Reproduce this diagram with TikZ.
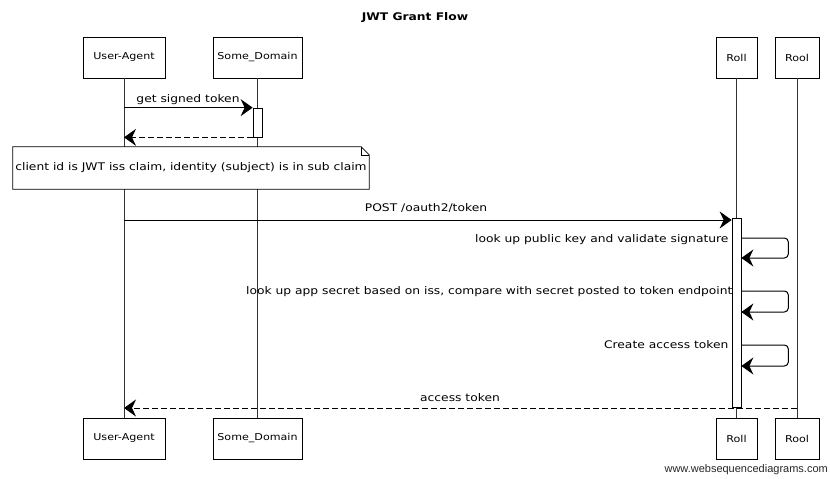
\documentclass[tikz,border=0pt]{standalone}
\usepackage{fontspec}
\setmainfont{DejaVu Sans}[FakeStretch=1.17]
\newfontfamily\wmfont{Liberation Sans}
\usetikzlibrary{arrows.meta,calc}
\begin{document}
\begin{tikzpicture}[x=1pt,y=-1pt,
  actor/.style={draw, line width=0.8pt, minimum height=41pt, inner sep=0pt, font=\fontsize{9.5}{11}\selectfont},
  life/.style={draw=black!80, line width=0.7pt},
  msg/.style={line width=1pt, -{Stealth[length=12pt,width=17pt,inset=4pt]}},
  ret/.style={msg, dash pattern=on 6pt off 3pt},
  lbl/.style={font=\fontsize{10.5}{12}\selectfont, inner sep=1pt},
  act/.style={draw, fill=white, line width=0.7pt, minimum width=9pt, inner sep=0pt},
  notebox/.style={font=\fontsize{10.5}{12}\selectfont, minimum width=356pt, minimum height=42pt, inner sep=0pt}]
\useasboundingbox (0,0) rectangle (830,479);
\node[font=\bfseries\fontsize{10.5}{12}\selectfont] (title) at (415,18) {JWT Grant Flow};
% actors
\node[actor, minimum width=82pt] (uaT) at (124,57.5) {User-Agent};
\node[actor, minimum width=89pt] (sdT) at (257.5,57.5) {Some\_Domain};
\node[actor, minimum width=41pt] (rollT) at (736.5,57.5) {Roll};
\node[actor, minimum width=44pt] (roolT) at (797,57.5) {Rool};
\node[actor, minimum width=82pt] (uaB) at (124,438.5) {User-Agent};
\node[actor, minimum width=89pt] (sdB) at (257.5,438.5) {Some\_Domain};
\node[actor, minimum width=41pt] (rollB) at (736.5,438.5) {Roll};
\node[actor, minimum width=44pt] (roolB) at (797,438.5) {Rool};
% lifelines
\draw[life] (uaT.south) -- (uaB.north);
\draw[life] (sdT.south) -- (sdB.north);
\draw[life] (rollT.south) -- (rollB.north);
\draw[life] (roolT.south) -- (roolB.north);
% activations
\node[act, minimum height=29pt] (act1) at (257.5,122.5) {};
\node[act, minimum height=189pt] (act2) at (736.5,312.5) {};
% message 1
\draw[msg] (uaT.south |- act1.north) -- (act1.north west);
\node[lbl] (l1) at (188,100) {get signed token};
\draw[ret] (act1.south west) -- (uaT.south |- act1.south);
% note
\node[notebox] (note) at (191,168) {client id is JWT iss claim, identity (subject) is in sub claim};
\draw[fill=white, line width=0.7pt] (note.north west) -- ($(note.north east)+(-8,0)$) -- ($(note.north east)+(0,8)$) -- (note.south east) -- (note.south west) -- cycle;
\draw[line width=0.6pt] ($(note.north east)+(-8,0)$) -- ($(note.north east)+(-8,8)$) -- ($(note.north east)+(0,8)$);
\node[notebox] at (note.center) {client id is JWT iss claim, identity (subject) is in sub claim};
% POST
\draw[msg] (uaT.south |- 0,220) -- (act2.west |- 0,220);
\node[lbl] (l2) at (426,208) {POST /oauth2/token};
% self messages
\draw[msg, rounded corners=4pt] (act2.east |- 0,238) -- ++(47,0) -- ++(0,20) -- (act2.east |- 0,258);
\node[lbl, anchor=east] (s1) at ([xshift=-2pt]act2.west |- 0,240) {look up public key and validate signature};
\draw[msg, rounded corners=4pt] (act2.east |- 0,291) -- ++(47,0) -- ++(0,21) -- (act2.east |- 0,312);
\node[lbl, anchor=east] (s2) at ([xshift=2pt]act2.west |- 0,292) {look up app secret based on iss, compare with secret posted to token endpoint};
\draw[msg, rounded corners=4pt] (act2.east |- 0,345) -- ++(47,0) -- ++(0,21) -- (act2.east |- 0,366);
\node[lbl, anchor=east] (s3) at ([xshift=-2pt]act2.west |- 0,345) {Create access token};
% access token
\draw[ret] (roolT.south |- 0,408) -- (uaT.south |- 0,408);
\node[lbl] (l3) at (460,398) {access token};
% watermark
\node[anchor=east, font=\wmfont\fontsize{11}{13}\selectfont, text=black!85, inner sep=0pt] (wm) at (828,470) {www.websequencediagrams.com};
\end{tikzpicture}
\end{document}
